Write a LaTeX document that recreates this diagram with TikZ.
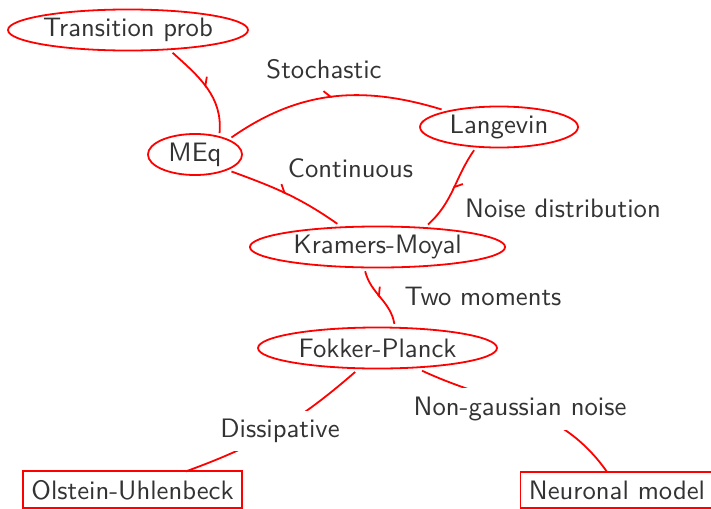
\documentclass[tikz,border=0pt]{standalone}
\usepackage{fontspec}
\usepackage{tikz}
\usetikzlibrary{shapes.geometric,arrows.meta,decorations.markings}

\begin{document}
\begin{tikzpicture}[x=0.39pt,y=0.39pt,
	font=\sffamily\fontsize{10.4}{12.5}\selectfont, text=black!80,
	state/.style={ellipse, draw=red, line width=0.7pt, inner sep=0pt, outer sep=1.5pt, minimum height=16pt},
	leaf/.style={rectangle, draw=red, line width=0.7pt, outer sep=0pt},
	flow/.style={draw=red, line width=0.7pt, postaction={decorate},
		decoration={markings, mark=at position 0.5 with {\arrow{Straight Barb[left,length=2.5pt,width=5pt]}}}},
	cut/.style={fill=white}]
	\useasboundingbox (0,0) rectangle (711,-508);

	\node[state, minimum width=93.6pt] (tp) at (128,-30) {Transition prob};
	\node[state, minimum width=36.7pt] (meq) at (195,-154.5) {MEq};
	\node[state, minimum width=61.6pt] (lang) at (499,-127) {Langevin};
	\node[state, minimum width=99.5pt] (km) at (377.5,-247) {Kramers-Moyal};
	\node[state, minimum width=93.2pt] (fp) at (377.5,-348) {Fokker-Planck};
	\node[leaf, anchor=base] (ou) at (132.5,-499) {Olstein-Uhlenbeck};
	\node[leaf, anchor=base] (nm) at (617,-499) {Neuronal model};

	\draw[flow] (tp.-27) to[out=-42,in=85] (meq.41);
	\draw[flow] (meq.25) to[out=35,in=163] (lang.163);
	\draw[flow] (meq.-25) to[out=-20,in=145] (km.150);
	\draw[flow] (lang.-137) to[out=-125,in=42] (km.24);
	\draw[flow] (km.-117) to[out=-76,in=100] (fp.55);
	\draw[flow] (fp.-133) to[out=-139,in=20] (ou.19);
	\draw[flow] (fp.-27) to[out=-25,in=125] (nm.119);

	\node (stoch) at (324,-69) {Stochastic};
	\node (cont) at (350.5,-168) {Continuous};
	\node (noise) at (563,-208) {Noise distribution};
	\node (two) at (483,-296) {Two moments};
	\node[cut] (nongauss) at (520,-409) {Non-gaussian noise};
	\node[cut] (diss) at (280,-431) {Dissipative};
\end{tikzpicture}
\end{document}
